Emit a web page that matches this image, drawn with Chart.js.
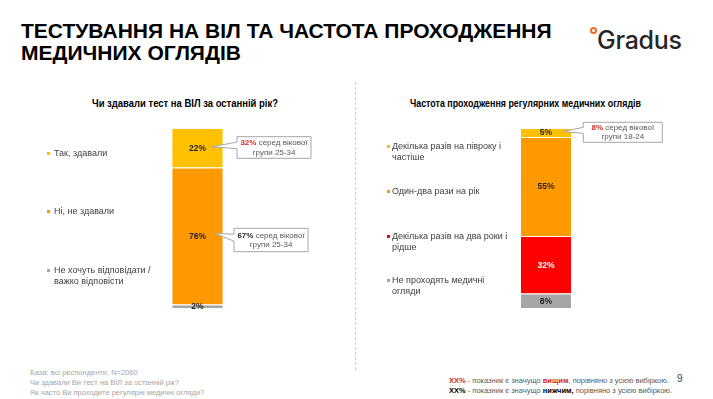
<!DOCTYPE html>
<html><head><meta charset="utf-8">
<script src="https://cdn.jsdelivr.net/npm/chart.js@4/dist/chart.umd.min.js"></script>
<style>
html,body{margin:0;padding:0;background:#fff;}
#page{position:relative;width:713px;height:399px;overflow:hidden;font-family:"Liberation Sans",Arial,sans-serif;color:#404040;background:#fff;}
.abs{position:absolute;white-space:nowrap;}
#title{left:21px;top:19.5px;font-weight:bold;font-size:21px;line-height:22.5px;color:#000;transform-origin:0 0;}
.sub{font-weight:bold;font-size:10px;line-height:12px;color:#000;transform-origin:0 0;}
#logo{left:597px;top:26px;font-family:Inter,"Noto Sans",sans-serif;font-size:25px;font-weight:500;color:#262626;letter-spacing:-0.3px;line-height:28px;}
#dot{left:590px;top:27px;width:3px;height:3px;border:2px solid #F26B1D;border-radius:50%;}
#divider{left:355px;top:82px;height:288px;border-left:1px dashed #d0d0d0;}
.leg{font-size:9px;line-height:11px;color:#404040;}
.mk{position:absolute;width:3px;height:3px;}
.foot{font-size:7.5px;line-height:10px;color:#a6a6a6;}
.note{font-size:7.5px;line-height:10px;color:#595959;}
.red{color:#D02B2B;font-weight:bold;}
.blk{color:#000;font-weight:bold;}
canvas{position:absolute;}
</style>
</head><body>
<div id="page">
  <div id="title" class="abs">ТЕСТУВАННЯ НА ВІЛ ТА ЧАСТОТА ПРОХОДЖЕННЯ<br>МЕДИЧНИХ ОГЛЯДІВ</div>
  <div id="dot" class="abs"></div>
  <div id="logo" class="abs">Gradus</div>
  <div id="divider" class="abs"></div>
  <div id="subL" class="abs sub" style="top:98px;"></div>
  <div id="subR" class="abs sub" style="top:98px;"></div>
  <canvas id="chartL" width="355" height="220" style="left:0;top:100px;"></canvas>
  <canvas id="chartR" width="353" height="220" style="left:360px;top:100px;"></canvas>
  <div id="legL"></div>
  <div id="legR"></div>
  <div class="abs foot" style="left:30px;top:368px;">База: всі респонденти, N=2060<br>Чи здавали Ви тест на ВІЛ за останній рік?<br>Як часто Ви проходите регулярні медичні огляди?</div>
  <div class="abs note" style="left:449px;top:376px;"><span class="red">XX%</span> - показник є значущо <span class="red">вищим</span>, порівняно з усією вибіркою.<br><span class="blk">XX%</span> - показник є значущо <span class="blk">нижчим,</span> порівняно з усією вибіркою.</div>
  <div class="abs" style="left:677px;top:373px;font-size:10px;color:#404040;">9</div>
</div>
<script>
// ---- data ----
const hivQuestion = 'Чи здавали тест на ВІЛ за останній рік?';
const hivCategories = [['Так, здавали'], ['Ні, не здавали'], ['Не хочуть відповідати /', 'важко відповісти']];
const hivValues = [22, 76, 2];
const hivCalloutCategory = [0, 1];
const hivCalloutValues = ['32%', '67%'];
const hivCalloutGroups = ['25-34', '25-34'];
const hivCalloutSignificance = ['higher', 'lower'];

const checkupQuestion = 'Частота проходження регулярних медичних оглядів';
const checkupCategories = [['Декілька разів на півроку і', 'частіше'], ['Один-два рази на рік'], ['Декілька разів на два роки і', 'рідше'], ['Не проходять медичні', 'огляди']];
const checkupValues = [5, 55, 32, 8];
const checkupCalloutCategory = [0];
const checkupCalloutValues = ['8%'];
const checkupCalloutGroups = ['18-24'];
const checkupCalloutSignificance = ['higher'];

// ---- styles / layout ----
const hivColors = ['#FFC000', '#FF9900', '#A6A6A6'];
const checkupColors = ['#FFC000', '#FF9900', '#FF0000', '#A6A6A6'];
const labelColorsL = ['#262626', '#262626', '#262626'];
const labelColorsR = ['#262626', '#262626', '#FFFFFF', '#262626'];
const hivLegendTops = [147.5, 205.5, 265];
const checkupLegendTops = [141, 185.5, 231, 274.5];
const hivCalloutBoxes = [{x:237, y:36.7, w:74, h:21.6, dx:14, dy:-1}, {x:234, y:128.3, w:74, h:23.4, dx:17.5, dy:-2.5}];
const checkupCalloutBoxes = [{x:223.3, y:22.3, w:79, h:20, dx:17, dy:-1}];

// fit text elements horizontally to reference extents
function fitText(el, left, width) {
  el.style.left = left + 'px';
  const w = el.getBoundingClientRect().width;
  el.style.transform = 'scaleX(' + (width / w) + ')';
}
const subL = document.getElementById('subL');
const subR = document.getElementById('subR');
subL.textContent = hivQuestion;
subR.textContent = checkupQuestion;
fitText(subL, 92, 186);
fitText(subR, 410, 231);

function buildLegend(id, cats, colors, tops, textLeft, markLeft) {
  const host = document.getElementById(id);
  cats.forEach((lines, i) => {
    const d = document.createElement('div');
    d.className = 'abs leg';
    d.style.left = textLeft + 'px';
    d.style.top = tops[i] + 'px';
    d.innerHTML = lines.join('<br>');
    host.appendChild(d);
    const m = document.createElement('div');
    m.className = 'mk';
    m.style.left = markLeft + 'px';
    m.style.top = (tops[i] + 4) + 'px';
    m.style.background = colors[i];
    host.appendChild(m);
  });
}
buildLegend('legL', hivCategories, hivColors, hivLegendTops, 54, 47);
buildLegend('legR', checkupCategories, checkupColors, checkupLegendTops, 392, 387);

const valueLabels = {
  id: 'valueLabels',
  afterDatasetsDraw(chart) {
    const ctx = chart.ctx;
    chart.data.datasets.forEach((ds, di) => {
      const el = chart.getDatasetMeta(di).data[0];
      const y = (el.y + el.base) / 2;
      ctx.save();
      ctx.font = 'bold 8.5px "Liberation Sans", Arial, sans-serif';
      ctx.fillStyle = ds.labelColor;
      ctx.textAlign = 'center';
      ctx.textBaseline = 'middle';
      ctx.fillText(ds.data[0] + '%', el.x, y + 0.5);
      ctx.restore();
    });
  }
};

const callouts = {
  id: 'callouts',
  afterDraw(chart) {
    const cfg = chart.options.plugins.callouts;
    const ctx = chart.ctx;
    cfg.cats.forEach((cat, k) => {
      const di = chart.data.datasets.findIndex(d => d.catIndex === cat);
      const el = chart.getDatasetMeta(di).data[0];
      const b = cfg.boxes[k];
      const tx = el.x + b.dx, ty = (el.y + el.base) / 2 + b.dy;
      ctx.save();
      ctx.beginPath();
      ctx.moveTo(b.x, b.y);
      ctx.lineTo(b.x + b.w, b.y);
      ctx.lineTo(b.x + b.w, b.y + b.h);
      ctx.lineTo(b.x, b.y + b.h);
      ctx.lineTo(b.x, b.y + b.h * 0.55);
      ctx.lineTo(tx, ty);
      ctx.lineTo(b.x, b.y + b.h * 0.25);
      ctx.closePath();
      ctx.fillStyle = '#fff';
      ctx.fill();
      ctx.strokeStyle = '#A6A6A6';
      ctx.lineWidth = 1;
      ctx.stroke();
      const cx = b.x + b.w / 2, cy = b.y + b.h / 2;
      const boldFont = 'bold 8px "Liberation Sans", Arial, sans-serif';
      const regFont = '8px "Liberation Sans", Arial, sans-serif';
      const v = cfg.values[k];
      const rest = ' серед вікової';
      ctx.textBaseline = 'middle';
      ctx.font = boldFont; const w1 = ctx.measureText(v).width;
      ctx.font = regFont; const w2 = ctx.measureText(rest).width;
      const x0 = cx - (w1 + w2) / 2;
      ctx.textAlign = 'left';
      ctx.font = boldFont;
      ctx.fillStyle = cfg.sig[k] === 'higher' ? '#D02B2B' : '#262626';
      ctx.fillText(v, x0, cy - 4.3);
      ctx.font = regFont;
      ctx.fillStyle = '#595959';
      ctx.fillText(rest, x0 + w1, cy - 4.3);
      ctx.textAlign = 'center';
      ctx.fillText('групи ' + cfg.groups[k], cx, cy + 4.8);
      ctx.restore();
    });
  }
};

function makeChart(id, cats, values, colors, labelColors, pad, co) {
  const datasets = [];
  for (let i = values.length - 1; i >= 0; i--) {
    datasets.push({
      label: cats[i].join(' '),
      data: [values[i]],
      backgroundColor: colors[i],
      borderColor: '#ffffff',
      borderWidth: {top: 1, bottom: 0, left: 0, right: 0},
      borderSkipped: false,
      barPercentage: 1,
      categoryPercentage: 0.5,
      catIndex: i,
      labelColor: labelColors[i]
    });
  }
  return new Chart(document.getElementById(id), {
    type: 'bar',
    data: {labels: [''], datasets},
    options: {
      responsive: false,
      animation: false,
      events: [],
      layout: {padding: pad},
      plugins: {legend: {display: false}, tooltip: {enabled: false}, callouts: co},
      scales: {
        x: {stacked: true, display: false},
        y: {stacked: true, display: false, min: 0, max: 100}
      }
    },
    plugins: [valueLabels, callouts]
  });
}

makeChart('chartL', hivCategories, hivValues, hivColors, labelColorsL,
  {top: 28, bottom: 12, left: 147, right: 107},
  {cats: hivCalloutCategory, values: hivCalloutValues, groups: hivCalloutGroups, sig: hivCalloutSignificance, boxes: hivCalloutBoxes});
makeChart('chartR', checkupCategories, checkupValues, checkupColors, labelColorsR,
  {top: 28, bottom: 12, left: 136, right: 117},
  {cats: checkupCalloutCategory, values: checkupCalloutValues, groups: checkupCalloutGroups, sig: checkupCalloutSignificance, boxes: checkupCalloutBoxes});
</script>
</body></html>
